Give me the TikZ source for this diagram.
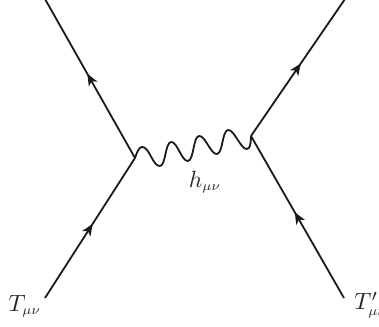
\documentclass[tikz,border=0pt]{standalone}
\usepackage{graphicx}
\usetikzlibrary{arrows.meta,decorations.markings}
\newcommand{\subidx}{\scalebox{0.8}{$\scriptstyle\mu\nu$}}
\tikzset{
  fermion/.style={line width=0.95pt,black!90,postaction={decorate},
    decoration={markings,mark=at position 0.53 with {\arrow{Stealth[length=6.2pt,width=5.2pt,inset=1.7pt]}}}},
  graviton/.style={line width=0.95pt,black!90,line join=round},
  lbl/.style={inner sep=0pt,text=black!85,scale=1.25}
}
\begin{document}
\begin{tikzpicture}[x=0.53pt,y=-0.53pt]
\useasboundingbox (0,0) rectangle (379,327);
\coordinate (vl) at (135,158);
\coordinate (vr) at (251,136);
\coordinate (tl) at (45,-1);
\coordinate (tr) at (345,-1);
\node[lbl,anchor=center] (bl) at (25,306) {$T_{\subidx}$};
\node[lbl,anchor=west] (br) at (354,305) {$T'_{\subidx}$};
\node[lbl] (h) at (205,182) {$h_{\subidx}$};
\coordinate (bla) at (45,298);
\coordinate (bra) at (344,298);
\draw[fermion] (bla) -- (vl);
\draw[fermion] (vl) -- (tl);
\draw[fermion] (bra) -- (vr);
\draw[fermion] (vr) -- (tr);
\draw[graviton] (vl) .. controls (137,152) and (139,147) .. (142,147)
  .. controls (149,146) and (153,167) .. (160,166)
  .. controls (166,165) and (165,143) .. (171,142)
  .. controls (177,141) and (182,162) .. (188,161)
  .. controls (194,160) and (193,137) .. (199,136)
  .. controls (205,135) and (211,155) .. (217,154)
  .. controls (223,153) and (222,131) .. (228,130)
  .. controls (234,129) and (241,150) .. (247,149)
  .. controls (250,149) and (251,143) .. (vr);
\end{tikzpicture}
\end{document}
